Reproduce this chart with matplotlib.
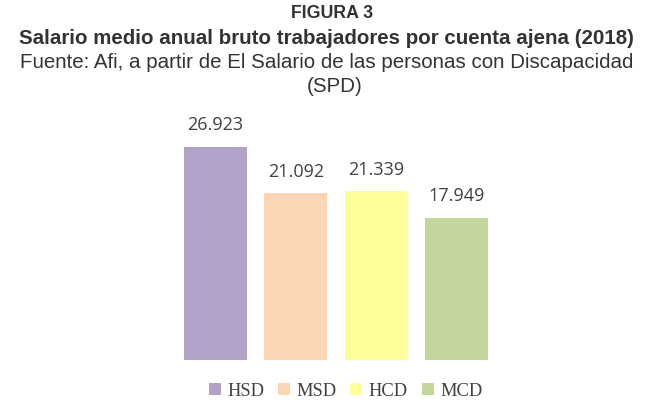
import matplotlib
matplotlib.use("Agg")
import matplotlib.pyplot as plt
from matplotlib.patches import Patch

categories = ["HSD", "MSD", "HCD", "MCD"]
values = [26923, 21092, 21339, 17949]
labels = ["26.923", "21.092", "21.339", "17.949"]
colors = ["#B3A2C7", "#FCD5B5", "#FFFF99", "#C3D69B"]

fig = plt.figure(figsize=(6.57, 4.11), dpi=100)
fig.patch.set_facecolor("white")

# titles
fig.text(0.506, 0.967, "FIGURA 3", ha="center", va="center", fontsize=12.8,
         fontweight="bold", color="#333333", family="Liberation Sans")
fig.text(0.497, 0.907, "Salario medio anual bruto trabajadores por cuenta ajena (2018)",
         ha="center", va="center", fontsize=14.8, fontweight="bold",
         color="#333333", family="Liberation Sans")
fig.text(0.498, 0.849, "Fuente: Afi, a partir de El Salario de las personas con Discapacidad",
         ha="center", va="center", fontsize=14.8, color="#333333", family="Liberation Sans")
fig.text(0.510, 0.790, "(SPD)", ha="center", va="center", fontsize=14.8,
         color="#333333", family="Liberation Sans")

# axes: bottom at 360px, 0.00791 px per unit
ax = fig.add_axes([143.2 / 657, 1 - 360 / 411, 385.4 / 657, 237.3 / 411])
x = list(range(len(categories)))
ax.bar(x, values, width=0.785, color=colors)
ax.set_xlim(-0.9, 3.9)
ax.set_ylim(0, 30000)
for xi, v, lab in zip(x, values, labels):
    ax.text(xi, v + 1600, lab, ha="center", va="bottom", fontsize=13,
            color="#404040", family="Open Sans")
ax.axis("off")

handles = [Patch(facecolor=c, edgecolor="none") for c in colors]
fig.legend(handles, categories, loc="center", bbox_to_anchor=(0.526, 0.048),
           ncol=4, frameon=False, prop={"family": "Liberation Serif", "size": 13.3},
           handlelength=0.65, handleheight=0.65, handletextpad=0.35, columnspacing=0.75,
           labelcolor="#404040")

fig.savefig("out.png", dpi=100)
